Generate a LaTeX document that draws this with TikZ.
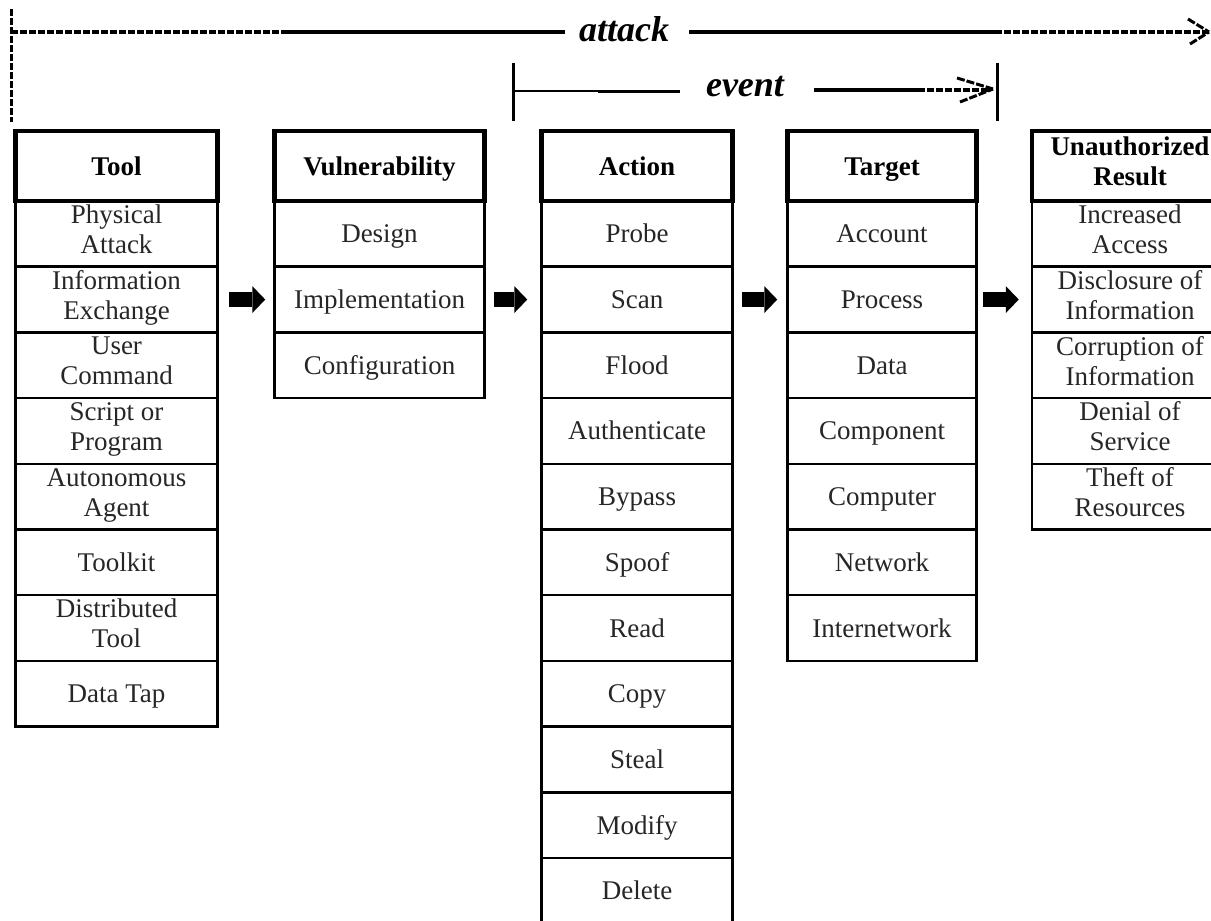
\documentclass[tikz,border=0pt]{standalone}
\usepackage{fontspec}
\setmainfont{Liberation Serif}
\usetikzlibrary{arrows.meta}
\begin{document}
\begin{tikzpicture}[x=1pt,y=-1pt,
  cell/.style={draw, line width=2.5pt, minimum height=65.7pt, inner xsep=0pt, inner ysep=-2pt, align=center,
    font=\fontsize{27}{30}\selectfont, text=black!85,
    execute at begin node={\rule{0pt}{27pt}}, execute at end node=\strut},
  headbox/.style={draw, line width=4.5pt, minimum height=70pt, inner sep=0pt, align=center,
    font=\fontsize{27}{30}\selectfont\bfseries,
    execute at begin node={\rule{0pt}{27pt}}, execute at end node=\strut},
  blockarr/.style={line width=15pt, -{Triangle[width=27pt,length=13pt,line width=0pt]}},
  topline/.style={line width=4pt},
  dashline/.style={line width=3.5pt, dash pattern=on 6.5pt off 2.5pt},
  tipline/.style={line width=3pt, dash pattern=on 8pt off 2pt},
  toplabel/.style={font=\fontsize{36}{36}\selectfont\bfseries\itshape, inner sep=0pt}
]
\useasboundingbox (0,0) rectangle (1211,921);
\clip (0,0) rectangle (1211,921);

% ---------- Tool ----------
\foreach \t [count=\i] in {{Physical\\Attack},{Information\\Exchange},{User\\Command},{Script or\\Program},{Autonomous\\Agent},{Toolkit},{Distributed\\Tool},{Data Tap}}{
  \node[cell, minimum width=202pt] (tool\i) at (116.5,{201+(\i-0.5)*65.7}) {\t};
}
\node[headbox, minimum width=202pt] (toolh) at (116.5,166) {Tool};

% ---------- Vulnerability ----------
\foreach \t [count=\i] in {{Design},{Implementation},{Configuration}}{
  \node[cell, minimum width=210pt] (vuln\i) at (379.5,{201+(\i-0.5)*65.7}) {\t};
}
\node[headbox, minimum width=210pt] (vulnh) at (379.5,166) {Vulnerability};

% ---------- Action ----------
\foreach \t [count=\i] in {{Probe},{Scan},{Flood},{Authenticate},{Bypass},{Spoof},{Read},{Copy},{Steal},{Modify},{Delete}}{
  \node[cell, minimum width=191pt] (act\i) at (637,{201+(\i-0.5)*65.7}) {\t};
}
\node[headbox, minimum width=191pt] (acth) at (637,166) {Action};

% ---------- Target ----------
\foreach \t [count=\i] in {{Account},{Process},{Data},{Component},{Computer},{Network},{Internetwork}}{
  \node[cell, minimum width=189pt] (targ\i) at (882,{201+(\i-0.5)*65.7}) {\t};
}
\node[headbox, minimum width=189pt] (targh) at (882,166) {Target};

% ---------- Unauthorized Result ----------
\foreach \t [count=\i] in {{Increased\\Access},{Disclosure of\\Information},{Corruption of\\Information},{Denial of\\Service},{Theft of\\Resources}}{
  \node[cell, minimum width=196pt] (res\i) at (1130,{201+(\i-0.5)*65.7}) {\t};
}
\node[headbox, minimum width=196pt] (resh) at (1130,166) {Unauthorized\\Result};

% ---------- block arrows ----------
\draw[blockarr, shorten <=10pt, shorten >=8pt] (tool2.east) -- (vuln2.west);
\draw[blockarr, shorten <=8pt, shorten >=13pt] (vuln2.east) -- (act2.west);
\draw[blockarr, shorten <=8pt, shorten >=9pt] (act2.east) -- (targ2.west);
\draw[blockarr, shorten <=5pt, shorten >=12pt] (targ2.east) -- (res2.west);

% ---------- attack ----------
\node[toplabel] (attack) at (624,29) {attack};
\coordinate (aTop) at (11,9);
\coordinate (aBot) at (11,122);
\coordinate (aL) at (11,32);
\coordinate (aD1) at (285,32);
\coordinate (aS1) at (565,32);
\coordinate (aS2) at (689,32);
\coordinate (aD2) at (995,32);
\coordinate (aR) at (1207,32);
\coordinate (aTip) at (1209,32);
\coordinate (aArm1) at (1188,19);
\coordinate (aArm2) at (1190,44);
\draw[dashline, line width=3pt] (aTop) -- (aBot);
\draw[dashline] (aL) -- (aD1);
\draw[topline] (aD1) -- (aS1);
\draw[topline] (aS2) -- (aD2);
\draw[dashline] (aD2) -- (aR);
\draw[tipline] (aArm1) -- (aTip);
\draw[tipline] (aArm2) -- (aTip);

% ---------- event ----------
\node[toplabel] (event) at (745,87) {event};
\coordinate (eTopL) at (513,63);
\coordinate (eBotL) at (513,121);
\coordinate (eL) at (513,91);
\coordinate (eM) at (598,91);
\coordinate (eS1) at (680,91);
\coordinate (eS2) at (814,90);
\coordinate (eD) at (918,90);
\coordinate (eR) at (988,90);
\coordinate (eTip) at (993,89);
\coordinate (eArm1) at (957,78);
\coordinate (eArm2) at (960,102);
\coordinate (eTopR) at (997,63);
\coordinate (eBotR) at (997,121);
\draw[line width=3pt] (eTopL) -- (eBotL);
\draw[line width=2pt] (eL) -- (eM);
\draw[line width=3pt] (eM) -- (eS1);
\draw[topline] (eS2) -- (eD);
\draw[dashline] (eD) -- (eR);
\draw[tipline] (eArm1) -- (eTip);
\draw[tipline] (eArm2) -- (eTip);
\draw[line width=3pt] (eTopR) -- (eBotR);
\end{tikzpicture}
\end{document}
